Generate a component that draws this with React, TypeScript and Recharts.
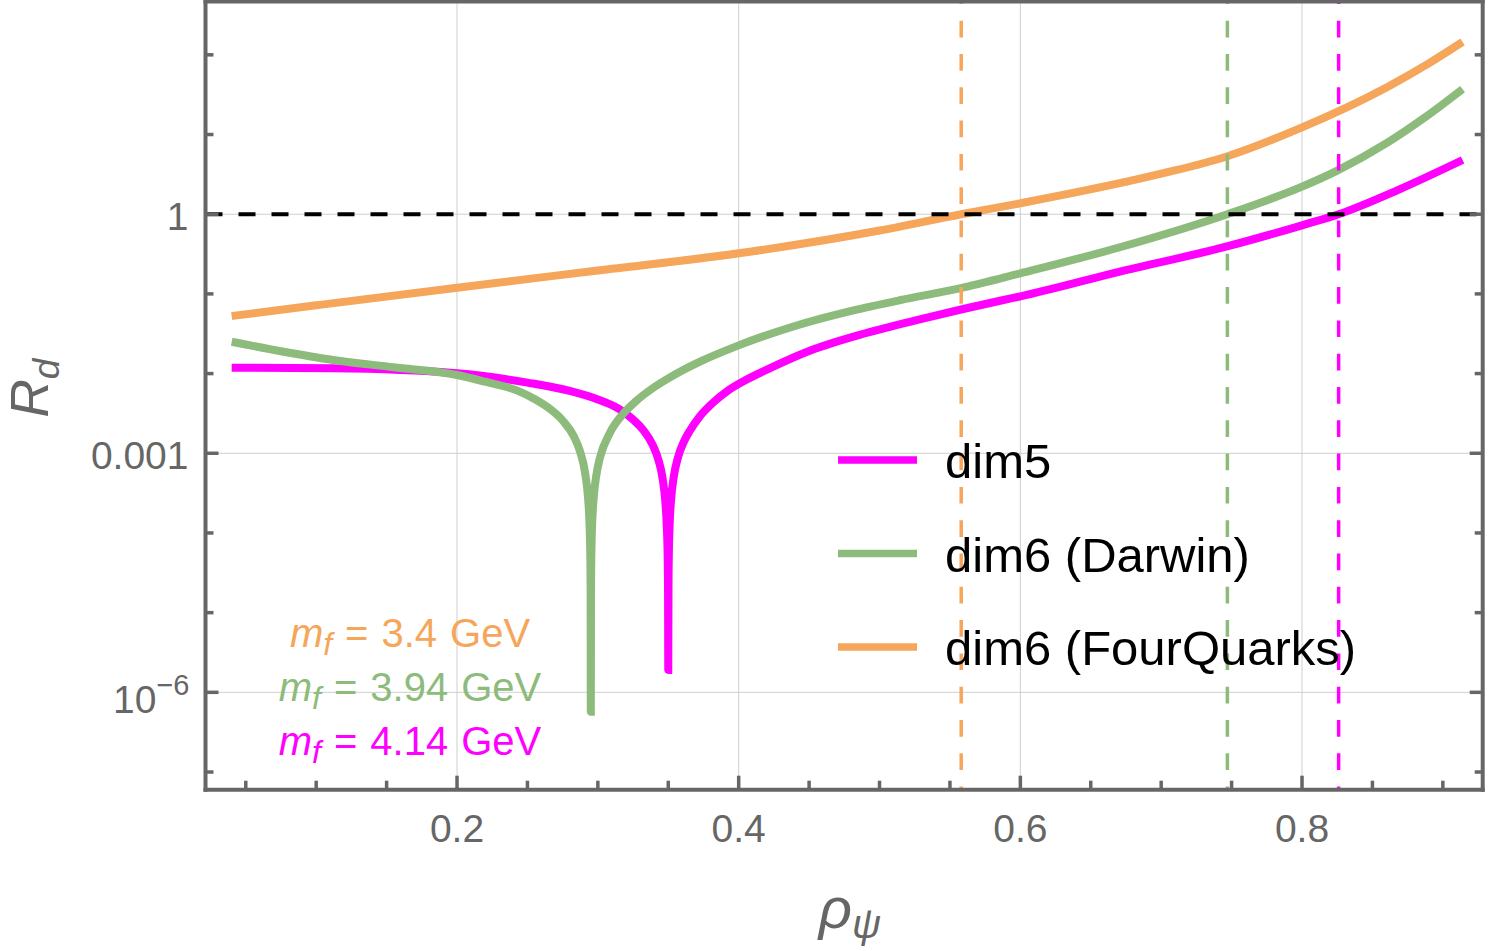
import React from 'react';
import { LineChart, Line, XAxis, YAxis, CartesianGrid, ReferenceLine, Legend } from 'recharts';

const FONT = '"Liberation Sans", Arial, Helvetica, sans-serif';
const AXIS_GRAY = '#666666';
const MAGENTA = '#ff00ff';
const GREEN = '#8dbb7b';
const ORANGE = '#f5a65b';

// rho_psi samples and R_d values (log y axis)
const rhoDim5 = [
  0.04, 0.112, 0.2, 0.25, 0.28, 0.3, 0.315, 0.325, 0.332, 0.339, 0.343, 0.346, 0.348, 0.349, 0.3496, 0.34985, 0.35,
  0.35015, 0.3504, 0.351, 0.352, 0.354, 0.357, 0.361, 0.365, 0.3725, 0.382, 0.392, 0.405, 0.42, 0.45, 0.49, 0.53,
  0.588, 0.6, 0.67, 0.746, 0.8, 0.826, 0.868, 0.914,
];
const rdDim5 = [
  0.01186, 0.01166, 0.0101, 0.0077, 0.00605, 0.00473, 0.0036, 0.00265, 0.00198, 0.001265, 8.26e-4, 4.8e-4, 2.36e-4, 1.15e-4, 4.6e-5, 1.7e-5, 1.91e-6,
  2.0e-5, 5.2e-5, 1.3e-4, 2.6e-4, 5.2e-4, 9.0e-4, 0.00139, 0.00188, 0.00292, 0.00435, 0.00605, 0.0083, 0.0112, 0.0192, 0.0321, 0.0486,
  0.0838, 0.093, 0.189, 0.391, 0.726, 1.0, 2.01, 4.79,
];

const rhoDarwin = [
  0.04, 0.075, 0.112, 0.155, 0.2, 0.22, 0.242, 0.255, 0.266, 0.275, 0.283, 0.287, 0.291, 0.293, 0.294, 0.2946, 0.29485, 0.295,
  0.29515, 0.2954, 0.296, 0.297, 0.299, 0.3015, 0.3086, 0.318, 0.327, 0.337, 0.35, 0.3725, 0.4, 0.44, 0.48, 0.515, 0.557,
  0.6, 0.67, 0.747, 0.8, 0.824, 0.86, 0.8866, 0.914,
];
const rdDarwin = [
  0.0251, 0.0191, 0.01482, 0.012, 0.0096, 0.0079, 0.0062, 0.0048, 0.0036, 0.00258, 0.00162, 0.0011, 5.6e-4, 2.8e-4, 1.4e-4, 5.6e-5, 2.1e-5, 5.7e-7,
  2.0e-5, 5.4e-5, 1.35e-4, 2.7e-4, 5.4e-4, 8.8e-4, 0.00181, 0.00313, 0.0045, 0.0062, 0.0087, 0.0141, 0.0226, 0.0396, 0.0612, 0.0838, 0.1175,
  0.1813, 0.382, 1.0, 2.22, 3.45, 7.78, 16.1, 37.2,
];

const rhoFourQuarks = [0.04, 0.1, 0.2, 0.3, 0.4, 0.5, 0.558, 0.6, 0.7, 0.746, 0.8, 0.86, 0.89, 0.914];
const rdFourQuarks = [0.0528, 0.0719, 0.1197, 0.1967, 0.323, 0.624, 1.0, 1.37, 3.22, 5.27, 12.3, 39, 78, 145];

// where each curve crosses R_d = 1
const crossFourQuarks = 0.558;
const crossDarwin = 0.747;
const crossDim5 = 0.826;

const xDomain = [0.0214, 0.9283];
const yDomain = [6.0e-8, 467];
const xTicks = [0.05, 0.1, 0.15, 0.2, 0.25, 0.3, 0.35, 0.4, 0.45, 0.5, 0.55, 0.6, 0.65, 0.7, 0.75, 0.8, 0.85, 0.9];
const xLabelTicks = [0.2, 0.4, 0.6, 0.8];
const yTicks = [1e-7, 1e-6, 1e-5, 1e-4, 1e-3, 1e-2, 1e-1, 1, 10, 100];
const yLabelTicks = [1e-6, 1e-3, 1];

const massValues = ['3.4', '3.94', '4.14'];
const massColors = [ORANGE, GREEN, MAGENTA];

const toData = (xs: number[], ys: number[]) => xs.map((rho, i) => ({ rho, rd: ys[i] }));
const dim5Data = toData(rhoDim5, rdDim5);
const darwinData = toData(rhoDarwin, rdDarwin);
const fourQuarksData = toData(rhoFourQuarks, rdFourQuarks);

const isMajorX = (v: number) => xLabelTicks.some((t) => Math.abs(t - v) < 1e-9);
const isMajorY = (v: number) => yLabelTicks.some((t) => Math.abs(Math.log10(t) - Math.log10(v)) < 1e-6);

const frameLine = { stroke: AXIS_GRAY, strokeWidth: 4, strokeLinecap: 'square' as const };

const BottomTick = (props: any) => {
  const { x, y, payload } = props;
  const major = isMajorX(payload.value);
  return (
    <g>
      <line x1={x} x2={x} y1={y} y2={y - (major ? 14 : 9)} stroke={AXIS_GRAY} strokeWidth={3.5} />
      {major && (
        <text x={x} y={y + 52} textAnchor="middle" fontSize={39} fontFamily={FONT} fill={AXIS_GRAY}>
          {payload.value}
        </text>
      )}
    </g>
  );
};

const TopTick = (props: any) => {
  const { x, y, payload } = props;
  const major = isMajorX(payload.value);
  return <line x1={x} x2={x} y1={y} y2={y + (major ? 14 : 9)} stroke={AXIS_GRAY} strokeWidth={3.5} />;
};

const LeftTick = (props: any) => {
  const { x, y, payload } = props;
  const v = payload.value;
  const major = isMajorY(v);
  let label: React.ReactNode = null;
  if (major) {
    const exp = Math.round(Math.log10(v));
    if (exp === 0) {
      label = (
        <text x={x - 17} y={y + 16} textAnchor="end" fontSize={39} fontFamily={FONT} fill={AXIS_GRAY}>1</text>
      );
    } else if (exp === -3) {
      label = (
        <text x={x - 17} y={y + 16} textAnchor="end" fontSize={39} fontFamily={FONT} fill={AXIS_GRAY}>0.001</text>
      );
    } else {
      label = (
        <text x={x - 16} y={y + 21} textAnchor="end" fontSize={39} fontFamily={FONT} fill={AXIS_GRAY}>
          10<tspan fontSize={29} dy={-18}>{'\u2212' + Math.abs(exp)}</tspan>
        </text>
      );
    }
  }
  return (
    <g>
      <line x1={x} x2={x + (major ? 13 : 8)} y1={y} y2={y} stroke={AXIS_GRAY} strokeWidth={3.5} />
      {label}
    </g>
  );
};

const RightTick = (props: any) => {
  const { x, y, payload } = props;
  const major = isMajorY(payload.value);
  return <line x1={x} x2={x - (major ? 13 : 8)} y1={y} y2={y} stroke={AXIS_GRAY} strokeWidth={3.5} />;
};

const renderLegend = (props: any) => {
  const items = props.payload || [];
  return (
    <svg width={560} height={260} style={{ display: 'block', overflow: 'visible' }}>
      {items.map((entry: any, i: number) => (
        <g key={entry.value} transform={`translate(0, ${35 + i * 93.5})`}>
          <line x1={0} x2={79} y1={0} y2={0} stroke={entry.color} strokeWidth={7.5} />
          <text x={107} y={18} fontSize={49} fontFamily={FONT} fill="#000">
            {entry.value}
          </text>
        </g>
      ))}
    </svg>
  );
};

export default function App() {
  return (
    <div style={{ position: 'absolute', left: 0, top: 0, width: 1500, height: 951, background: '#fff' }}>
      <LineChart width={1500} height={951} margin={{ top: 0, right: 0, bottom: 0, left: 0 }}>
        <XAxis
          xAxisId="bottom"
          dataKey="rho"
          type="number"
          domain={xDomain}
          allowDataOverflow
          ticks={xTicks}
          interval={0}
          height={161.3}
          tickSize={0}
          tickMargin={0}
          tick={<BottomTick />}
          axisLine={frameLine}
        />
        <XAxis
          xAxisId="top"
          orientation="top"
          type="number"
          domain={xDomain}
          allowDataOverflow
          ticks={xTicks}
          interval={0}
          height={1.5}
          tickSize={0}
          tickMargin={0}
          tick={<TopTick />}
          axisLine={frameLine}
        />
        <YAxis
          yAxisId="left"
          type="number"
          scale="log"
          domain={yDomain}
          allowDataOverflow
          ticks={yTicks}
          interval={0}
          width={205.5}
          tickSize={0}
          tickMargin={0}
          tick={<LeftTick />}
          axisLine={frameLine}
        />
        <YAxis
          yAxisId="right"
          orientation="right"
          type="number"
          scale="log"
          domain={yDomain}
          allowDataOverflow
          ticks={yTicks}
          interval={0}
          width={17.3}
          tickSize={0}
          tickMargin={0}
          tick={<RightTick />}
          axisLine={frameLine}
        />
        <CartesianGrid
          xAxisId="bottom"
          yAxisId="left"
          stroke="#cfcfcf"
          strokeWidth={1}
          verticalValues={xLabelTicks}
          horizontalValues={yLabelTicks}
        />
        <Line
          xAxisId="bottom"
          yAxisId="left"
          data={dim5Data}
          dataKey="rd"
          name="dim5"
          type="monotone"
          stroke={MAGENTA}
          strokeWidth={8}
          dot={false}
          isAnimationActive={false}
        />
        <Line
          xAxisId="bottom"
          yAxisId="left"
          data={darwinData}
          dataKey="rd"
          name="dim6 (Darwin)"
          type="monotone"
          stroke={GREEN}
          strokeWidth={8}
          dot={false}
          isAnimationActive={false}
        />
        <Line
          xAxisId="bottom"
          yAxisId="left"
          data={fourQuarksData}
          dataKey="rd"
          name="dim6 (FourQuarks)"
          type="monotone"
          stroke={ORANGE}
          strokeWidth={8}
          dot={false}
          isAnimationActive={false}
        />
        <ReferenceLine xAxisId="bottom" yAxisId="left" y={1} stroke="#000" strokeWidth={4} strokeDasharray="17 16" />
        <ReferenceLine xAxisId="bottom" yAxisId="left" x={crossFourQuarks} stroke={ORANGE} strokeWidth={3.5} strokeDasharray="16.7 16.6" strokeDashoffset={13.6} />
        <ReferenceLine xAxisId="bottom" yAxisId="left" x={crossDarwin} stroke={GREEN} strokeWidth={3.5} strokeDasharray="16.7 16.6" strokeDashoffset={13.6} />
        <ReferenceLine xAxisId="bottom" yAxisId="left" x={crossDim5} stroke={MAGENTA} strokeWidth={3.5} strokeDasharray="16.7 16.6" strokeDashoffset={13.6} />
        <Legend
          layout="vertical"
          align="center"
          verticalAlign="middle"
          wrapperStyle={{ left: 838, top: 425, width: 560 }}
          content={renderLegend}
        />
      </LineChart>
      <svg
        width={1500}
        height={951}
        style={{ position: 'absolute', left: 0, top: 0, pointerEvents: 'none' }}
      >
        <text
          transform="translate(48, 388) rotate(-90)"
          textAnchor="middle"
          fontSize={53}
          fontStyle="italic"
          fontFamily={FONT}
          fill={AXIS_GRAY}
        >
          R<tspan fontSize={37} dy={11}>d</tspan>
        </text>
        <text x={850} y={928} textAnchor="middle" fontSize={58} fontStyle="italic" fontFamily={FONT} fill={AXIS_GRAY}>
          ρ<tspan fontSize={40} dy={10}>ψ</tspan>
        </text>
        {massValues.map((m, i) => (
          <text key={m} x={410} y={647 + i * 54} textAnchor="middle" fontSize={40} fontFamily={FONT} fill={massColors[i]}>
            <tspan fontStyle="italic">m</tspan>
            <tspan fontStyle="italic" fontSize={32} dy={8}>f</tspan>
            <tspan dy={-8} dx={13}>=</tspan>
            <tspan dx={13}>{m}</tspan>
            <tspan dx={13}>GeV</tspan>
          </text>
        ))}
      </svg>
    </div>
  );
}
